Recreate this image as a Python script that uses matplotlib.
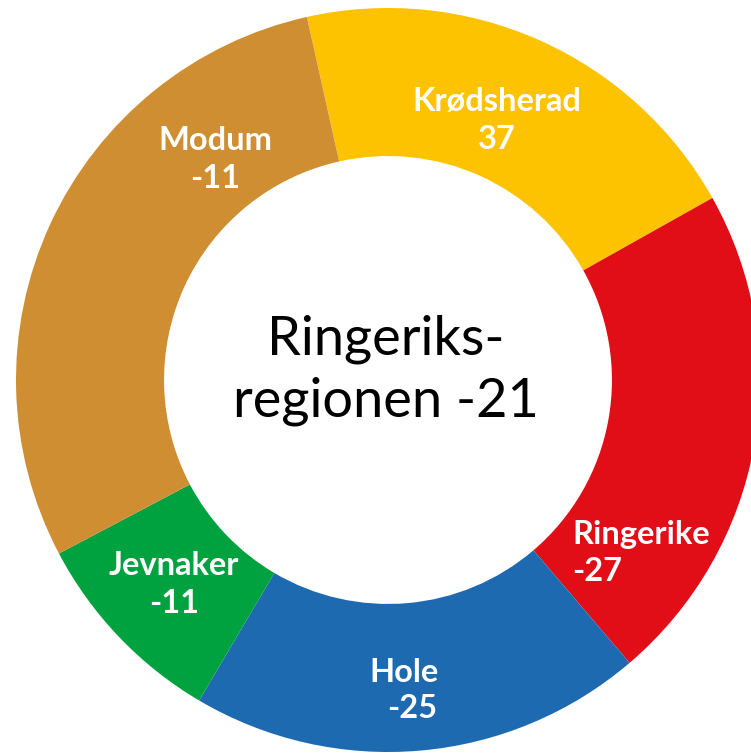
import matplotlib
matplotlib.use("Agg")
import matplotlib.pyplot as plt

# Data
municipalities = ["Krødsherad", "Ringerike", "Hole", "Jevnaker", "Modum"]
changes = ["37", "-27", "-25", "-11", "-11"]
shares = [73.3, 78.8, 71.0, 31.7, 105.2]  # slice sizes (degrees)
colors = ["#FDC300", "#E10E17", "#1D6AB1", "#00A23F", "#CF8E31"]
center_title = ["Ringeriks-", "regionen -21"]

W, H = 751, 756
fig = plt.figure(figsize=(W / 100, H / 100), dpi=100)
ax = fig.add_axes([0, 0, 1, 1])

cx, cy, R = 388, H - 380, 372
ax.pie(shares, colors=colors, startangle=102.6, counterclock=False,
       center=(cx, cy), radius=R,
       wedgeprops=dict(width=R * 0.398, linewidth=0, antialiased=True))
ax.set_xlim(0, W)
ax.set_ylim(0, H)
ax.set_aspect("equal")
ax.axis("off")

# label placements in pixel coordinates (x, baseline1, baseline2, align)
placements = {
    "Krødsherad": (497, 111, 149, "center"),
    "Ringerike": (572, 544, 581, "left"),
    "Hole": (404, 682, 718, "center"),
    "Jevnaker": (174, 575, 613, "center"),
    "Modum": (215, 150, 188, "center"),
}
for name, val in zip(municipalities, changes):
    x, b1, b2, ha = placements[name]
    x2 = x + 8 if name == "Hole" else x
    ax.text(x, H - b1, name, ha=ha, va="baseline", color="white",
            fontsize=23.5, fontweight="bold", family="Lato")
    ax.text(x2, H - b2, val, ha=ha, va="baseline", color="white",
            fontsize=23.5, fontweight="bold", family="Lato")

ax.text(386, H - 354, center_title[0], ha="center", va="baseline",
        color="black", fontsize=39, family="Lato")
ax.text(386, H - 416, center_title[1], ha="center", va="baseline",
        color="black", fontsize=39, family="Lato")

fig.savefig("out.png", dpi=100, facecolor="white")
